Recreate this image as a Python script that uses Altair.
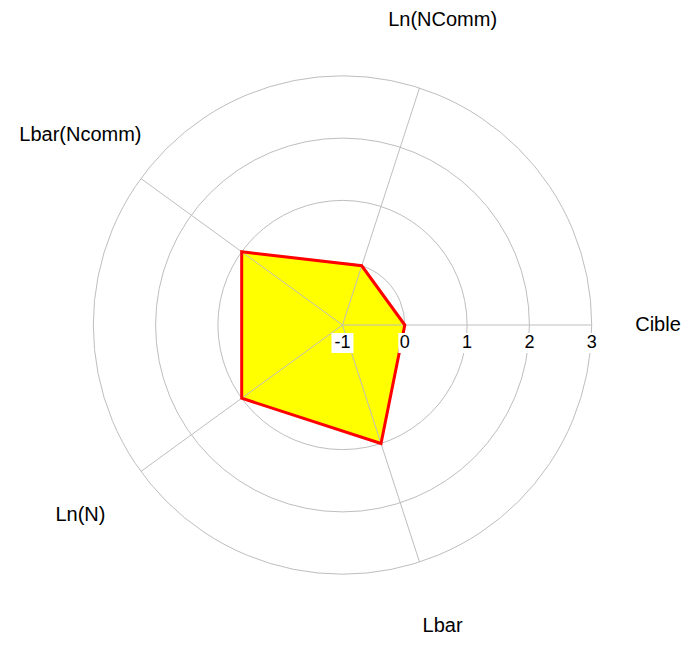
import math
import altair as alt
import pandas as pd

# ---- data ----
axis_names = ["Cible", "Ln(NComm)", "Lbar(Ncomm)", "Ln(N)", "Lbar"]
scores = [0, 0, 1, 1, 1]
ring_values = [0, 1, 2, 3]
tick_values = [-1, 0, 1, 2, 3]
tick_labels = ["-1", "0", "1", "2", "3"]
r_min = -1
r_max = 3

# ---- layout ----
W, H = 674, 629
CX, CY = 334.5, 317.0      # centre of the radar in chart pixels
UNIT = 62.3                # pixels per unit of value
LABEL_R = 5.2              # distance of axis labels from centre, in units
FONT = "Liberation Sans"
GRID = "#bebebe"
SPAN = r_max - r_min

xscale = alt.Scale(domain=[-CX / UNIT, (W - CX) / UNIT], range=[0, W], nice=False, zero=False)
yscale = alt.Scale(domain=[-(H - CY) / UNIT, CY / UNIT], range=[H, 0], nice=False, zero=False)
y_floor = -(H - CY - 11) / UNIT
y_ceil = (CY - 12) / UNIT
x_ceil = (W - CX - 24) / UNIT

n = len(axis_names)
angles = [2 * math.pi * i / n for i in range(n)]

poly_df = pd.DataFrame({
    "axis": axis_names,
    "order": list(range(n)),
    "value": scores,
    "angle": angles,
})
spoke_df = pd.DataFrame({"axis": axis_names, "angle": angles})
ring_df = pd.DataFrame({"r": ring_values})
tick_df = pd.DataFrame({"t": tick_values, "label": tick_labels})
label_df = pd.DataFrame({"axis": axis_names, "angle": angles})

X = lambda f: alt.X(f, type="quantitative", scale=xscale, axis=None)
Y = lambda f: alt.Y(f, type="quantitative", scale=yscale, axis=None)

# grid rings: circle points whose diameter follows the radial scale
rings = alt.Chart(ring_df).transform_calculate(
    u=f"datum.r - ({r_min})", x0="0", y0="0"
).mark_point(shape="circle", filled=False, stroke=GRID, strokeWidth=1, opacity=1).encode(
    x=X("x0"), y=Y("y0"),
    size=alt.Size("u:Q", scale=alt.Scale(type="pow", exponent=2, domain=[0, SPAN],
                                         range=[0, (2 * SPAN * UNIT) ** 2], zero=True),
                  legend=None),
)

poly_base = alt.Chart(poly_df).transform_calculate(
    px=f"(datum.value - ({r_min})) * cos(datum.angle)",
    py=f"(datum.value - ({r_min})) * sin(datum.angle)",
)

poly_fill = poly_base.mark_line(
    interpolate="linear-closed", fill="#ffff00", stroke="#ffff00", strokeWidth=0.5
).encode(x=X("px"), y=Y("py"), order="order:Q")

spokes = alt.Chart(spoke_df).transform_calculate(
    x0="0", y0="0",
    x1=f"{SPAN} * cos(datum.angle)",
    y1=f"{SPAN} * sin(datum.angle)",
).mark_rule(stroke=GRID, strokeWidth=1).encode(
    x=X("x0"), y=Y("y0"), x2="x1:Q", y2="y1:Q"
)

poly_line = poly_base.mark_line(
    interpolate="linear-closed", stroke="#ff0000", strokeWidth=3
).encode(x=X("px"), y=Y("py"), order="order:Q")

boxes = alt.Chart(tick_df).transform_calculate(
    xa=f"datum.t - ({r_min}) - (9 * length(datum.label) + 4) / 2 / {UNIT}",
    xb=f"datum.t - ({r_min}) + (9 * length(datum.label) + 4) / 2 / {UNIT}",
    y0="0",
).mark_rect(color="white", yOffset=8, y2Offset=28).encode(
    x=X("xa"), x2="xb:Q", y=Y("y0"), y2="y0:Q"
)

ticks = alt.Chart(tick_df).transform_calculate(
    xt=f"datum.t - ({r_min})", y0="0"
).mark_text(
    dy=18, align="center", baseline="middle", font=FONT, fontSize=18, color="black"
).encode(x=X("xt"), y=Y("y0"), text="label:N")

labels = alt.Chart(label_df).transform_calculate(
    lx=f"min({LABEL_R} * cos(datum.angle), {x_ceil})",
    ly=f"min(max({LABEL_R} * sin(datum.angle), {y_floor}), {y_ceil})",
).mark_text(
    align="center", baseline="middle", font=FONT, fontSize=20, color="black"
).encode(x=X("lx"), y=Y("ly"), text="axis:N")

chart = alt.layer(rings, poly_fill, spokes, poly_line, boxes, ticks, labels).properties(
    width=W, height=H, padding=0,
    autosize=alt.AutoSizeParams(type="none"),
).configure_view(stroke=None)

chart.save("out.html", embed_options={"renderer": "svg", "actions": False})
